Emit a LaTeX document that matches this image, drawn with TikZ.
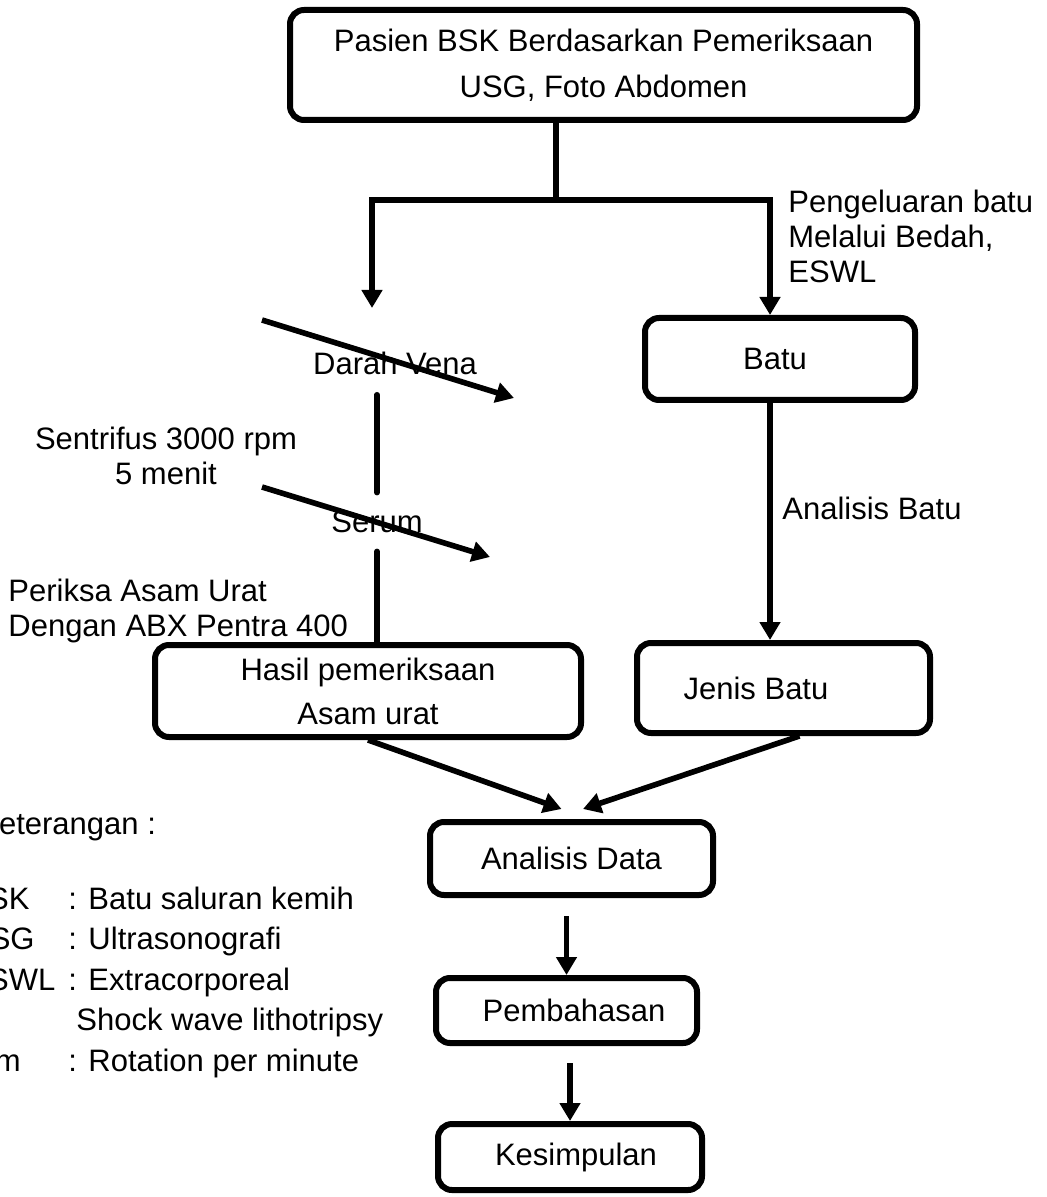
\documentclass[tikz,border=0pt]{standalone}
\usepackage{fontspec}
\setmainfont{Liberation Sans}
\usepackage{tikz}
\usetikzlibrary{arrows.meta}

\begin{document}
\begin{tikzpicture}[
    x=0.5pt, y=-0.5pt,
    box/.style={rectangle, rounded corners=7pt, draw, line width=3pt, inner sep=0pt, font=\fontsize{15.5}{22}\selectfont},
    txt/.style={inner sep=0pt, font=\fontsize{15.5}{17.5}\selectfont},
    arrow/.style={-{Triangle[length=9pt,width=10pt]}, line width=2.8pt},
    link/.style={line width=2.8pt}
]
\useasboundingbox (0,0) rectangle (1047,1197);
\clip (0,0) rectangle (1047,1197);

% Patient
\node [box, align=center, minimum width=313.5pt, minimum height=55pt, font=\fontsize{15.5}{23}\selectfont] (top) at (603.5,65) {Pasien BSK Berdasarkan Pemeriksaan\\USG, Foto Abdomen};

% Left branch: blood
\node [txt] (darah) at (395,363) {Darah Vena};
\node [txt] (serum) at (377,522) {Serum};
\node [box, align=center, minimum width=213pt, minimum height=46pt] (hasil) at (368,691) {Hasil pemeriksaan\\Asam urat};

% Right branch: stone
\node [box, minimum width=135pt, minimum height=41pt] (batu) at (780,359) {Batu\kern5pt};
\node [box, minimum width=146.5pt, minimum height=45pt] (jenis) at (783.5,688) {Jenis Batu\kern27.5pt};

% Final steps
\node [box, minimum width=141.5pt, minimum height=36.5pt] (analisis) at (571.5,858.5) {Analisis Data};
\node [box, minimum width=130.5pt, minimum height=32.5pt] (bahas) at (566.5,1010.5) {\kern7.5pt Pembahasan};
\node [box, minimum width=132pt, minimum height=33pt] (simpul) at (570,1157) {\kern6pt Kesimpulan};

% Side notes
\node [txt, align=left, anchor=west] (keluar) at (788,236) {Pengeluaran batu\\Melalui Bedah,\\ESWL};
\node [txt, anchor=west] (anbatu) at (782,508) {Analisis Batu};
\node [txt, align=center] (sentri) at (166,456) {Sentrifus 3000 rpm\\5 menit};
\node [txt, align=left, anchor=west] (periksa) at (8,610.5) {Periksa Asam Urat\\Dengan ABX Pentra 400};

% Legend
\node [txt, anchor=base west] (ket) at (-22,834) {Keterangan :};
\node [txt, anchor=base west, font=\fontsize{15.5}{20.25}\selectfont] (legend) at (-33,909) {%
\begin{tabular}[t]{@{}p{50.5pt}@{}l@{}}
BSK & : Batu saluran kemih\\
USG & : Ultrasonografi\\
ESWL & : Extracorporeal\\
 & \hspace*{4pt}Shock wave lithotripsy\\
rpm & : Rotation per minute
\end{tabular}};

% Split from patient
\coordinate (split) at (556,200);
\coordinate (lft) at (372,200);
\coordinate (rgt) at (770,200);
\coordinate (darahin) at (372,308);
\draw [link] (split |- top.south) -- (split);
\draw [arrow] (split) -- (lft) -- (darahin);
\draw [arrow] (split) -- (rgt) -- (rgt |- batu.north);

% Blood flow
\coordinate (d1a) at (262,320);
\coordinate (d1b) at (514,398);
\coordinate (d2a) at (262,487);
\coordinate (d2b) at (490,557);
\draw [arrow] (d1a) -- (d1b);
\draw [arrow] (d2a) -- (d2b);
\draw [link, line cap=round, shorten <=10pt, shorten >=9pt] (serum |- darah.south) -- (serum.north);
\draw [link, line cap=round, shorten <=9pt] (serum.south) -- (serum |- hasil.north);

% Stone flow
\draw [arrow] (rgt |- batu.south) -- (rgt |- jenis.north);

% Convergence
\draw [arrow] (hasil.south) -- ([xshift=-5pt,yshift=5pt]analisis.north);
\draw [arrow] ([xshift=8pt]jenis.south) -- ([xshift=5.75pt,yshift=5pt]analisis.north);
\draw [arrow, shorten <=9pt] (bahas.north |- analisis.south) -- (bahas.north);
\draw [arrow, shorten <=8.5pt] (simpul.north |- bahas.south) -- (simpul.north);

\end{tikzpicture}
\end{document}
